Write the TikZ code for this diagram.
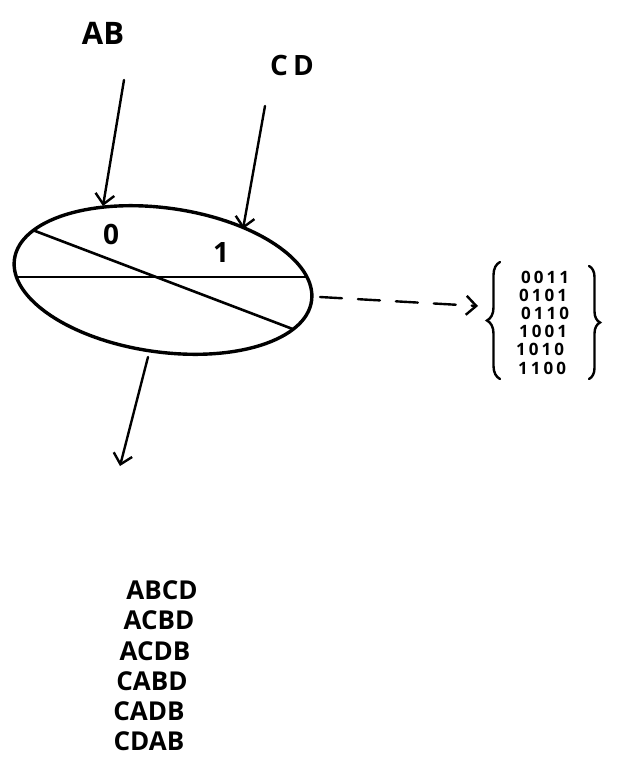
\documentclass[tikz,border=0pt]{standalone}
\usepackage{fontspec}
\setmainfont{Open Sans}
\newfontfamily\spreaddigits[LetterSpace=18]{Open Sans}
\usetikzlibrary{arrows.meta,decorations.pathreplacing}
\begin{document}
\begin{tikzpicture}[x=1pt,y=-1pt,
  inkline/.style={line width=2.4pt,line cap=round},
  vhead/.style={-{Straight Barb[length=10pt,width=19pt,line width=2.4pt]}},
  caps/.style={font=\fontsize{31}{31}\selectfont\bfseries,inner sep=0pt},
  digits/.style={font=\spreaddigits\fontsize{17}{17}\selectfont\bfseries,inner sep=0pt},
  perm/.style={font=\fontsize{26}{26}\selectfont\bfseries,inner sep=0pt}]
\useasboundingbox (0,0) rectangle (642,766);

% input labels
\node[caps] (ab) at (103,33) {AB};
\node[caps,font=\fontsize{28}{28}\selectfont\bfseries] (cd) at (292,65) {C\kern5pt D};

% the split ellipse
\coordinate (ctr) at (163,280);
\begin{scope}
  \clip[rotate around={-8:(ctr)}] (ctr) ellipse [x radius=150,y radius=72];
  \draw[inkline,line width=2.6pt] (0,277) -- (330,277);
  \draw[inkline,line width=2.6pt] (-20,210) -- (340,347);
\end{scope}
\draw[line width=3.4pt,rotate around={-8:(ctr)}] (ctr) ellipse [x radius=150,y radius=72];

\node[caps,font=\fontsize{28}{28}\selectfont\bfseries] (zero) at (111,234) {0};
\node[caps,font=\fontsize{28}{28}\selectfont\bfseries] (one) at (221,253) {1};

% arrow end points on the rim
\coordinate (abtop) at (124,80);
\coordinate (cdtop) at (265,106);
\coordinate (abtip) at (103,206);
\coordinate (cdtip) at (243,229);
\coordinate (outdown) at (148,357);
\coordinate (outright) at (320,297);
\coordinate (downtip) at (120,466);
\coordinate (righttip) at (478,306);

\draw[inkline,vhead] (abtop) -- (abtip);
\draw[inkline,vhead] (cdtop) -- (cdtip);
\draw[inkline,vhead] (outdown) -- (downtip);
\draw[inkline,vhead,dash pattern=on 22pt off 16pt] (outright) -- (righttip);

% set of bit strings
\node[digits] (s1) at (545,277) {0011};
\node[digits] (s2) at (543,295) {0101};
\node[digits] (s3) at (545,313) {0110};
\node[digits] (s4) at (543,331) {1001};
\node[digits] (s5) at (540,349) {1010};
\node[digits] (s6) at (542,368) {1100};
\draw[inkline,decorate,decoration={brace,amplitude=13pt}] (500,379) -- (500,262);
\draw[inkline,decorate,decoration={brace,amplitude=11pt}] (589,266) -- (589,379);

% resulting orderings
\node[perm] (p1) at (162,590) {ABCD};
\node[perm] (p2) at (159,620) {ACBD};
\node[perm] (p3) at (155,651) {ACDB};
\node[perm] (p4) at (152,681) {CABD};
\node[perm] (p5) at (149,711) {CADB};
\node[perm] (p6) at (149,741) {CDAB};
\end{tikzpicture}
\end{document}
